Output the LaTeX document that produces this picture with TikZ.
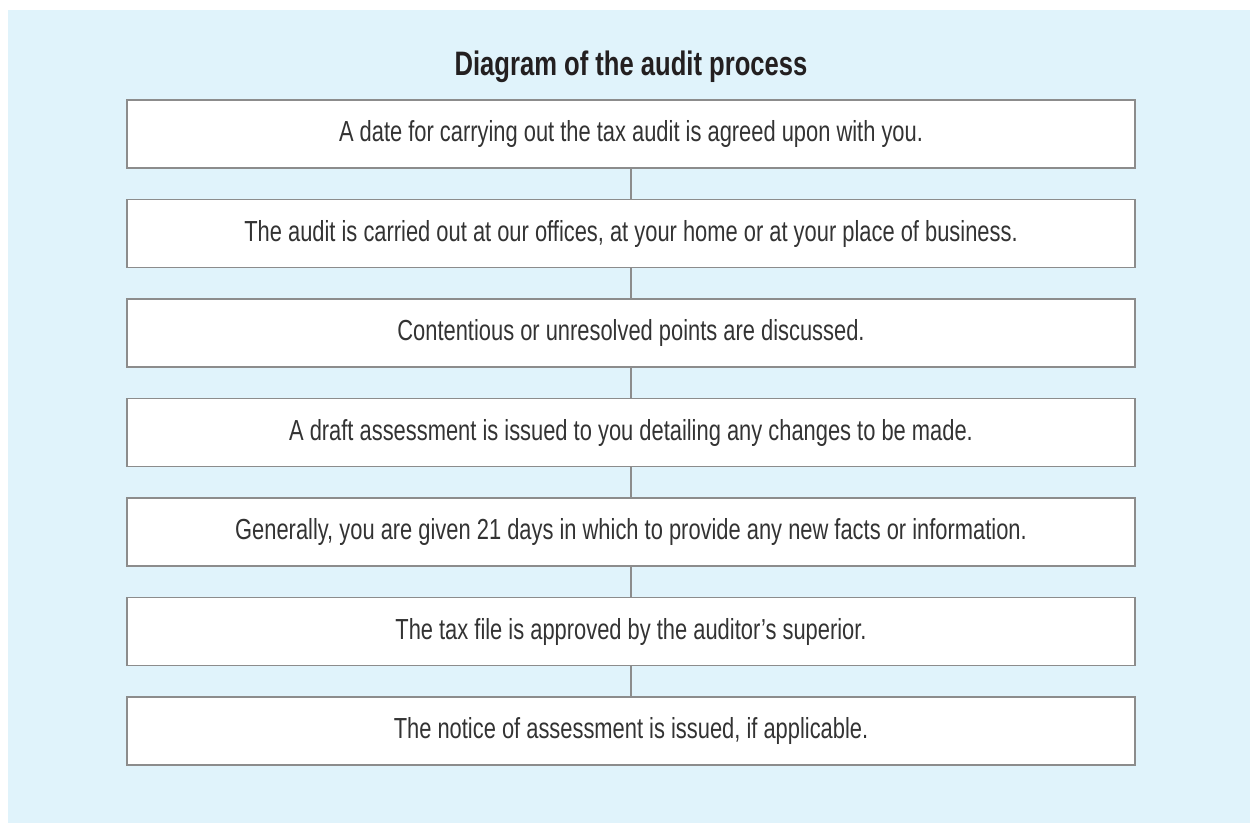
\documentclass[tikz,border=0pt]{standalone}
\usepackage{fontspec}
\setmainfont{Liberation Sans}[FakeStretch=0.755]
\usetikzlibrary{positioning}
\definecolor{panelblue}{HTML}{E0F3FB}
\definecolor{boxgray}{HTML}{8C8C8C}
\definecolor{txtgray}{HTML}{333333}
\definecolor{headblack}{HTML}{231F20}
\tikzset{
  stage/.style={draw=boxgray,line width=1.1pt,fill=white,minimum width=20.16cm,
    minimum height=1.36cm,inner sep=0pt,text=txtgray,font=\fontsize{16.5}{18}\selectfont},
  link/.style={draw=boxgray,line width=1.1pt}
}
\begin{document}
\begin{tikzpicture}[x=0.02cm,y=-0.02cm]
\useasboundingbox (0,0) rectangle (1250,823);
\fill[panelblue] (8,10) rectangle (1250,823);
\path
(631,67)    node[text=headblack,font=\fontsize{19.3}{21}\selectfont\bfseries] (title) {Diagram of the audit process}
(631,134)   node[stage] (s1) {A date for carrying out the tax audit is agreed upon with you.}
(631,233.5) node[stage] (s2) {The audit is carried out at our offices, at your home or at your place of business.}
(631,333)   node[stage] (s3) {Contentious or unresolved points are discussed.}
(631,432.5) node[stage] (s4) {A draft assessment is issued to you detailing any changes to be made.}
(631,532)   node[stage] (s5) {Generally, you are given 21 days in which to provide any new facts or information.}
(631,631.5) node[stage] (s6) {The tax file is approved by the auditor’s superior.}
(631,731)   node[stage] (s7) {The notice of assessment is issued, if applicable.};

\draw[link] (s1)--(s2);
\draw[link] (s2)--(s3);
\draw[link] (s3)--(s4);
\draw[link] (s4)--(s5);
\draw[link] (s5)--(s6);
\draw[link] (s6)--(s7);
\end{tikzpicture}
\end{document}
